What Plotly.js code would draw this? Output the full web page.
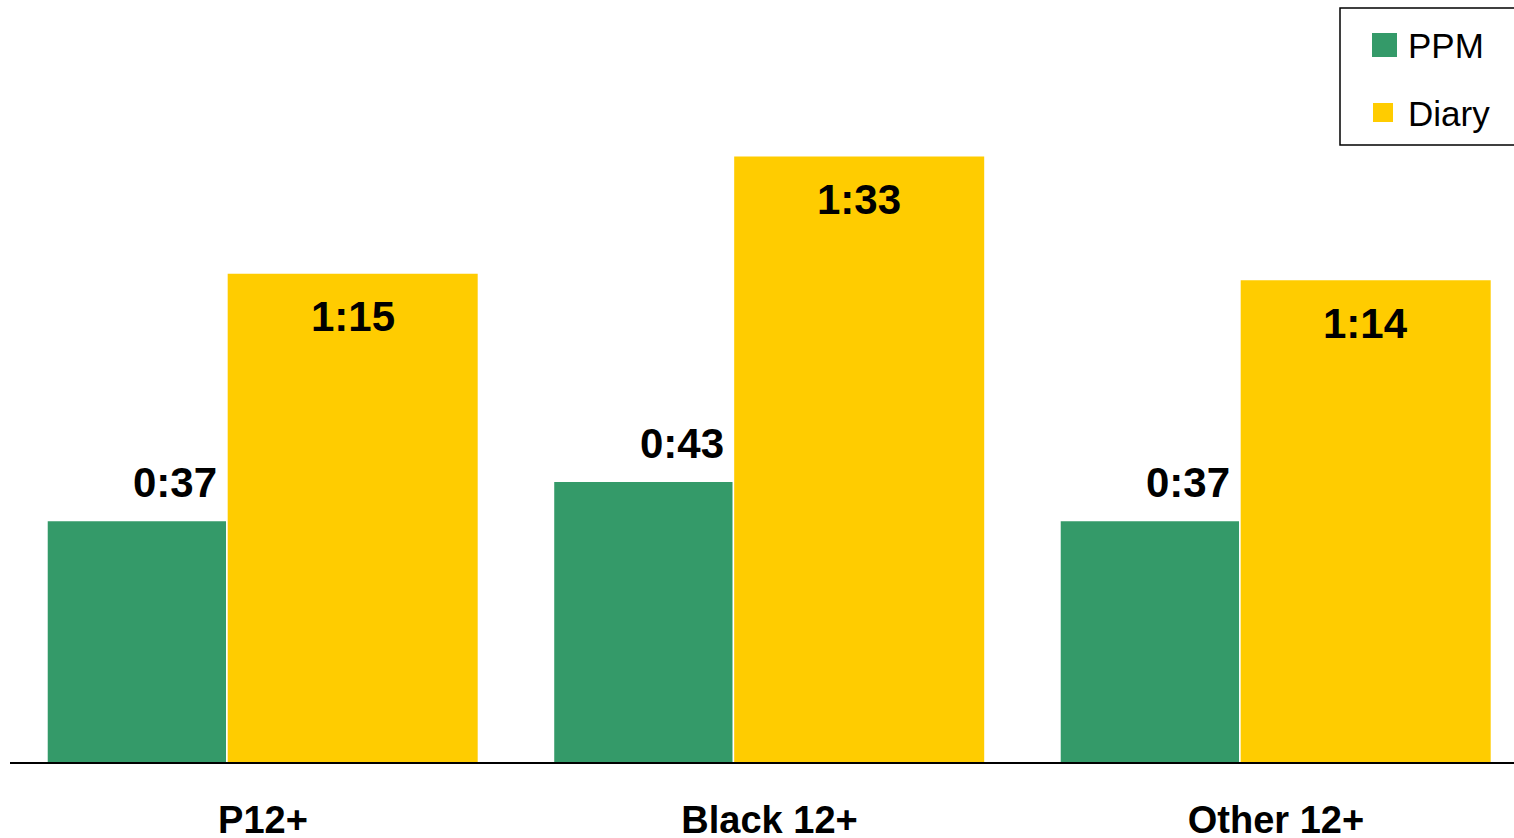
<!DOCTYPE html>
<html>
<head>
<meta charset="utf-8">
<script src="https://cdn.plot.ly/plotly-3.0.1.min.js"></script>
<style>html,body{margin:0;padding:0;background:#fff;}#chart{width:1514px;height:838px;}</style>
</head>
<body>
<div id="chart"></div>
<script>
// ---- data (minutes) ----
const categories = ["P12+", "Black 12+", "Other 12+"];
const seriesNames = ["PPM", "Diary"];
const ppmMinutes = [37, 43, 37];
const diaryMinutes = [75, 93, 74];

const colors = {PPM: "#349a69", Diary: "#ffcc00"};
const FONT = "Liberation Sans, Arial, Helvetica, sans-serif";

function fmt(m) { return Math.floor(m / 60) + ":" + String(m % 60).padStart(2, "0"); }

// geometry (in category units)
const W = 1514, H = 838;
const mL = 10, mR = 0, mT = 0, mB = 76;
const plotW = W - mL - mR, plotH = H - mT - mB;
const greenOffset = -0.425, greenWidth = 0.352;
const yellowOffset = -0.0697, yellowWidth = 0.4936;
const xRange = [-0.4995, 2.4699];
const yRange = [0, 117.05];

const idx = categories.map((_, i) => i);

const traces = [
  {type: "bar", name: seriesNames[0], x: idx, y: ppmMinutes,
   offset: greenOffset, width: greenWidth,
   marker: {color: colors.PPM, line: {width: 0}}, hoverinfo: "skip", showlegend: false},
  {type: "bar", name: seriesNames[1], x: idx, y: diaryMinutes,
   offset: yellowOffset, width: yellowWidth,
   marker: {color: colors.Diary, line: {width: 0}}, hoverinfo: "skip", showlegend: false}
];

const annotations = [];
ppmMinutes.forEach((v, i) => {
  annotations.push({x: i + greenOffset + greenWidth / 2, y: v, xref: "x", yref: "y",
    text: fmt(v), showarrow: false, xanchor: "center", yanchor: "middle",
    xshift: 38.5, yshift: 38.5,
    font: {family: FONT, size: 42, color: "#000", weight: "bold"}});
});
diaryMinutes.forEach((v, i) => {
  annotations.push({x: i + yellowOffset + yellowWidth / 2, y: v, xref: "x", yref: "y",
    text: fmt(v), showarrow: false, xanchor: "center", yanchor: "middle",
    yshift: -43,
    font: {family: FONT, size: 42, color: "#000", weight: "bold"}});
});

// custom legend (pixel -> paper)
const px = x => (x - mL) / plotW;
const py = y => (mT + plotH - y) / plotH;
const shapes = [
  {type: "rect", xref: "paper", yref: "paper", x0: px(1340), x1: px(1522), y0: py(8), y1: py(145),
   line: {color: "#000", width: 1.5}, fillcolor: "rgba(0,0,0,0)"},
  {type: "rect", xref: "paper", yref: "paper", x0: px(1372), x1: px(1397), y0: py(33), y1: py(57),
   line: {width: 0}, fillcolor: colors.PPM},
  {type: "rect", xref: "paper", yref: "paper", x0: px(1373), x1: px(1393), y0: py(103), y1: py(122),
   line: {width: 0}, fillcolor: colors.Diary}
];
annotations.push({xref: "paper", yref: "paper", x: px(1406), y: py(45), text: seriesNames[0],
  showarrow: false, xanchor: "left", yanchor: "middle", font: {family: FONT, size: 35, color: "#000"}});
annotations.push({xref: "paper", yref: "paper", x: px(1406), y: py(113), text: seriesNames[1],
  showarrow: false, xanchor: "left", yanchor: "middle", font: {family: FONT, size: 35, color: "#000"}});

const layout = {
  width: W, height: H,
  margin: {l: mL, r: mR, t: mT, b: mB, pad: 0},
  paper_bgcolor: "#fff", plot_bgcolor: "#fff",
  barmode: "overlay",
  showlegend: false,
  xaxis: {type: "linear", range: xRange, tickvals: idx, ticktext: categories,
    showgrid: false, zeroline: false, showline: true, linecolor: "#000", linewidth: 1.5,
    ticks: "", ticklabelstandoff: 24,
    tickfont: {family: FONT, size: 38, color: "#000", weight: "bold"}, fixedrange: true},
  yaxis: {range: yRange, showgrid: false, zeroline: false, showline: false,
    showticklabels: false, ticks: "", fixedrange: true},
  annotations: annotations,
  shapes: shapes
};

Plotly.newPlot("chart", traces, layout, {staticPlot: true, displayModeBar: false});
</script>
</body>
</html>
